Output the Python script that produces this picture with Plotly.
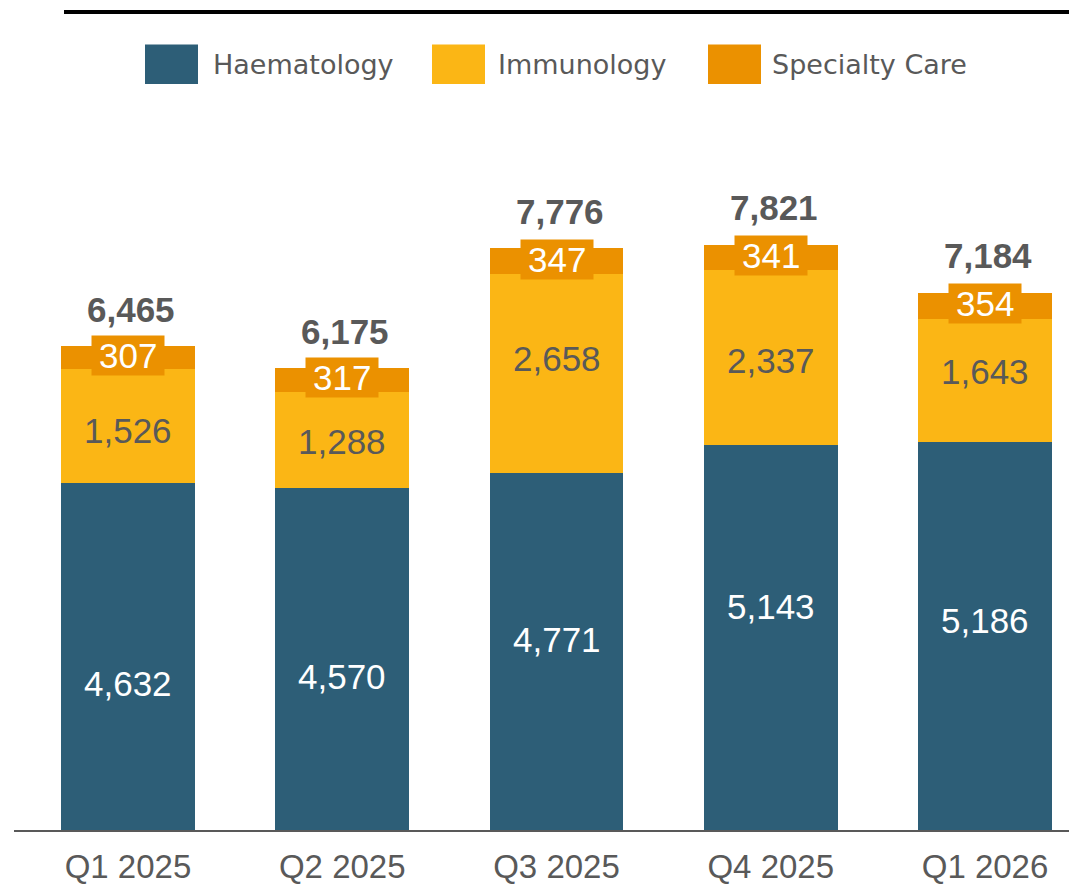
import plotly.graph_objects as go

categories = ["Q1 2025", "Q2 2025", "Q3 2025", "Q4 2025", "Q1 2026"]
haematology = [4632, 4570, 4771, 5143, 5186]
immunology = [1526, 1288, 2658, 2337, 1643]
specialty = [307, 317, 347, 341, 354]
totals = [6465, 6175, 7776, 7821, 7184]

# label nudges in pixels (style, not data)
haem_shift = [-27, -17, 12, 31, 16]
imm_shift = [-4, -2, 15, -3, 9]

C_HAEM = "#2D5E77"
C_IMM = "#FBB615"
C_SPEC = "#EB9100"
GREY = "#595959"

W, H = 1069, 885
ML, MR, MT, MB = 14, 0, 100, 50
PW = W - ML - MR
PH = H - MT - MB

fig = go.Figure()
for name, vals, col in [("Haematology", haematology, C_HAEM),
                        ("Immunology", immunology, C_IMM),
                        ("Specialty Care", specialty, C_SPEC)]:
    fig.add_trace(go.Bar(x=categories, y=vals, name=name, marker=dict(color=col, line=dict(width=0)),
                         width=0.625, showlegend=False, hoverinfo="skip"))

ann = []
for i, c in enumerate(categories):
    h, im, s, t = haematology[i], immunology[i], specialty[i], totals[i]
    ann.append(dict(x=c, y=h / 2, text=f"{h:,}", showarrow=False, yshift=haem_shift[i],
                    font=dict(family="Liberation Sans, Arial", size=35, color="white")))
    ann.append(dict(x=c, y=h + im / 2, text=f"{im:,}", showarrow=False, yshift=imm_shift[i],
                    font=dict(family="Liberation Sans, Arial", size=35, color=GREY)))
    ann.append(dict(x=c, y=h + im + s / 2, text="\u2009" + f"{s:,}" + "\u2009", showarrow=False, yshift=2,
                    bgcolor=C_SPEC, borderpad=0,
                    font=dict(family="Liberation Sans, Arial", size=35, color="white")))
    ann.append(dict(x=c, y=t, text=f"<b>{t:,}</b>", showarrow=False, yshift=37, xshift=3,
                    font=dict(family="Liberation Sans, Arial", size=35, color=GREY)))

def px(x):
    return (x - ML) / PW

def py(y):
    return (H - MB - y) / PH

shapes = [dict(type="line", xref="paper", yref="paper", x0=px(64), x1=1.0, y0=py(11.5), y1=py(11.5),
               line=dict(color="black", width=4))]

legend_items = [("Haematology", C_HAEM, 145, 211), ("Immunology", C_IMM, 432, 496),
                ("Specialty Care", C_SPEC, 708, 770)]
for name, col, sx, tx in legend_items:
    shapes.append(dict(type="rect", xref="paper", yref="paper", x0=px(sx), x1=px(sx + 53),
                       y0=py(84), y1=py(44), fillcolor=col, line=dict(width=0)))
    ann.append(dict(xref="paper", yref="paper", x=px(tx), y=py(64), xanchor="left", yanchor="middle",
                    text=name, showarrow=False,
                    font=dict(family="DejaVu Sans", size=27, color=GREY)))

ppu = 0.07533  # pixels per unit derived from reference scale
fig.update_layout(
    barmode="stack",
    width=W, height=H,
    margin=dict(l=ML, r=MR, t=MT, b=MB),
    plot_bgcolor="white", paper_bgcolor="white",
    xaxis=dict(range=[-0.532, 4.392], showgrid=False, zeroline=False, showline=True,
               linecolor=GREY, linewidth=2, ticks="", ticklabelstandoff=6,
               tickfont=dict(family="Liberation Sans, Arial", size=33, color=GREY)),
    yaxis=dict(range=[0, PH / ppu], visible=False),
    annotations=ann, shapes=shapes,
)

fig.write_html("out.html", config={"displayModeBar": False},
               post_script="document.body.style.margin='0';document.body.style.overflow='hidden';")
